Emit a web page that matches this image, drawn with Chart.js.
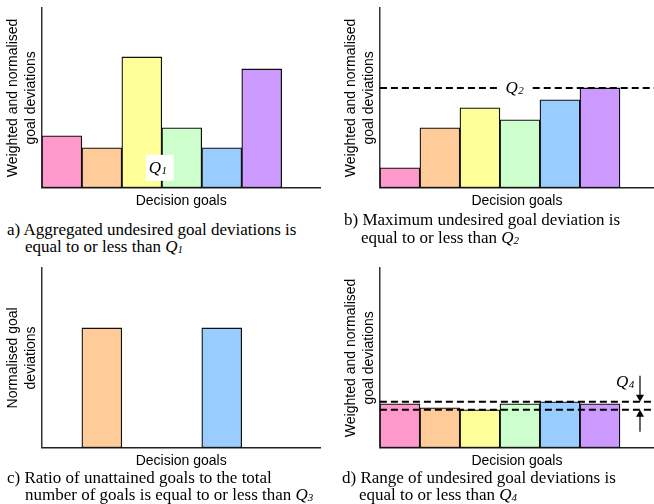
<!DOCTYPE html>
<html>
<head>
<meta charset="utf-8">
<script src="https://cdn.jsdelivr.net/npm/chart.js@4"></script>
<style>
html,body{margin:0;padding:0;background:#fff;}
#wrap{position:relative;width:654px;height:504px;overflow:hidden;background:#fff;}
#wrap canvas{position:absolute;}
.cap{position:absolute;font-family:'Liberation Serif','Times New Roman',serif;font-size:17px;line-height:17px;color:#000;white-space:nowrap;}
.cap i{font-style:italic;}
.cap .s{font-style:italic;font-size:11px;position:relative;top:1px;}
</style>
</head>
<body>
<div id="wrap">
  <canvas id="ca" width="327" height="212" style="left:0px;top:0px;"></canvas>
  <canvas id="cb" width="316" height="212" style="left:338px;top:0px;"></canvas>
  <canvas id="cc" width="327" height="212" style="left:0px;top:260px;"></canvas>
  <canvas id="cd" width="316" height="212" style="left:338px;top:260px;"></canvas>

  <div class="cap" style="left:7px;top:221px;">a) Aggregated undesired goal deviations is</div>
  <div class="cap" style="left:25px;top:238px;">equal to or less than <i>Q</i><span class="s">1</span></div>

  <div class="cap" style="left:344px;top:211px;">b) Maximum undesired goal deviation is</div>
  <div class="cap" style="left:361px;top:229px;">equal to or less than <i>Q</i><span class="s">2</span></div>

  <div class="cap" style="left:7px;top:469px;">c) Ratio of unattained goals to the total</div>
  <div class="cap" style="left:25px;top:486px;">number of goals is equal to or less than <i>Q</i><span class="s">3</span></div>

  <div class="cap" style="left:342px;top:469px;">d) Range of undesired goal deviations is</div>
  <div class="cap" style="left:359px;top:486px;">equal to or less than <i>Q</i><span class="s">4</span></div>
</div>
<script>
// ---- data ----
const goals = ['Goal 1','Goal 2','Goal 3','Goal 4','Goal 5','Goal 6'];
const goalColours = ['#FF99CC','#FFCC99','#FFFF99','#CCFFCC','#99CCFF','#CC99FF'];
const valuesA = [52, 40, 131, 60, 40, 119];   // aggregated deviations
const valuesB = [20, 60, 80, 68, 88, 100];    // maximum deviation
const valuesC = [null, 120, null, null, 120, null]; // unattained goals
const valuesD = [44, 40, 38, 44, 46, 44];     // range of deviations
const yTitleWeighted = ['Weighted and normalised', 'goal deviations'];
const yTitleNormalised = ['Normalised goal', 'deviations'];
const xTitle = 'Decision goals';
const yMax = 180;
const xMaxA = 6.47;   // slots visible on the x axis (left panels)
const xMaxB = 6.35;   // slots visible on the x axis (right panels, cut at edge)

const SANS = "'Liberation Sans', Arial, sans-serif";
const SERIF = "'Liberation Serif', 'Times New Roman', serif";

function toPoints(vals){ return goals.map((g,i)=>({x:i, y:vals[i]})); }

function drawQ(ctx, x, y, sub){
  ctx.save();
  ctx.fillStyle = '#000';
  ctx.textAlign = 'left';
  ctx.textBaseline = 'alphabetic';
  ctx.font = "italic 17px " + SERIF;
  const wQ = ctx.measureText('Q').width;
  ctx.fillText('Q', x, y);
  ctx.font = "italic 11px " + SERIF;
  ctx.fillText(sub, x + wQ + 0.5, y + 1);
  ctx.restore();
}

function dashedH(ctx, x1, x2, y){
  ctx.save();
  ctx.strokeStyle = '#000';
  ctx.lineWidth = 2;
  ctx.setLineDash([7,4]);
  ctx.beginPath();
  ctx.moveTo(x1, y); ctx.lineTo(x2, y);
  ctx.stroke();
  ctx.restore();
}

function arrow(ctx, x, yFrom, yTip){
  const dir = yTip > yFrom ? 1 : -1;
  ctx.save();
  ctx.strokeStyle = '#000';
  ctx.fillStyle = '#000';
  ctx.lineWidth = 1.2;
  ctx.beginPath();
  ctx.moveTo(x, yFrom); ctx.lineTo(x, yTip - dir*6);
  ctx.stroke();
  ctx.beginPath();
  ctx.moveTo(x, yTip);
  ctx.lineTo(x - 4, yTip - dir*7);
  ctx.lineTo(x + 4, yTip - dir*7);
  ctx.closePath();
  ctx.fill();
  ctx.restore();
}

function makeChart(id, vals, yTitle, xMax, extra){
  return new Chart(document.getElementById(id), {
    type: 'bar',
    data: {
      labels: goals,
      datasets: [{
        data: toPoints(vals),
        backgroundColor: goalColours,
        borderColor: '#111',
        borderWidth: 1.3,
        borderSkipped: false,
        barPercentage: 1,
        categoryPercentage: 1
      }]
    },
    options: {
      responsive: false,
      animation: false,
      events: [],
      layout: { padding: { left: 0, top: 8, right: (id==='ca'||id==='cc') ? 6.5 : 0, bottom: 0 } },
      plugins: { legend: { display: false }, tooltip: { enabled: false }, title: { display: false } },
      scales: {
        x: {
          type: 'linear',
          offset: false,
          bounds: 'data',
          min: -0.5,
          max: xMax,
          afterBuildTicks: s => { s.ticks = goals.map((g,i)=>({value:i})); },
          ticks: { display: false },
          grid: { display: false, drawTicks: false, offset: false },
          border: { display: true, color: '#222', width: 1.5 },
          title: { display: true, text: xTitle, color: '#000',
                   font: { family: SANS, size: 14, lineHeight: 1.3 },
                   padding: { top: 4, bottom: 2 } }
        },
        y: {
          min: 0,
          max: yMax,
          ticks: { display: false },
          grid: { display: false, drawTicks: false },
          border: { display: true, color: '#333', width: 1.5 },
          title: { display: true, text: yTitle, color: '#000',
                   font: { family: SANS, size: 14, lineHeight: 1.3 },
                   padding: { top: 4, bottom: 1.5 } }
        }
      }
    },
    plugins: extra ? [{ id: 'extra_'+id, afterDatasetsDraw(chart){ extra(chart); } }] : []
  });
}

// a) aggregated deviations with Q1 label
makeChart('ca', valuesA, yTitleWeighted, xMaxA, chart => {
  const ctx = chart.ctx, xs = chart.scales.x, ys = chart.scales.y;
  const cx = xs.getPixelForValue(2.45), cy = ys.getPixelForValue(20);
  ctx.save();
  ctx.fillStyle = '#fff';
  ctx.fillRect(cx - 14, cy - 13, 28, 26);
  ctx.restore();
  drawQ(ctx, cx - 11, ys.getPixelForValue(14.5), '1');
});

// b) maximum deviation with Q2 line
makeChart('cb', valuesB, yTitleWeighted, xMaxB, chart => {
  const ctx = chart.ctx, xs = chart.scales.x, ys = chart.scales.y, a = chart.chartArea;
  const q2 = Math.max(...valuesB);
  const y = ys.getPixelForValue(q2);
  dashedH(ctx, a.left, xs.getPixelForValue(2.44), y);
  dashedH(ctx, xs.getPixelForValue(3.32), a.right, y);
  drawQ(ctx, xs.getPixelForValue(2.64), y + 5.5, '2');
});

// c) ratio of unattained goals
makeChart('cc', valuesC, yTitleNormalised, xMaxA, null);

// d) range with Q4 lines and arrows
makeChart('cd', valuesD, yTitleWeighted, xMaxB, chart => {
  const ctx = chart.ctx, xs = chart.scales.x, ys = chart.scales.y, a = chart.chartArea;
  const yU = ys.getPixelForValue(Math.max(...valuesD));
  const yL = ys.getPixelForValue(Math.min(...valuesD));
  dashedH(ctx, a.left, a.right, yU);
  dashedH(ctx, a.left, a.right, yL);
  const ax = xs.getPixelForValue(6.0);
  arrow(ctx, ax, yU - 26, yU);
  arrow(ctx, ax, yL + 22, yL);
  drawQ(ctx, xs.getPixelForValue(5.4), yU - 14.5, '4');
});
</script>
</body>
</html>
